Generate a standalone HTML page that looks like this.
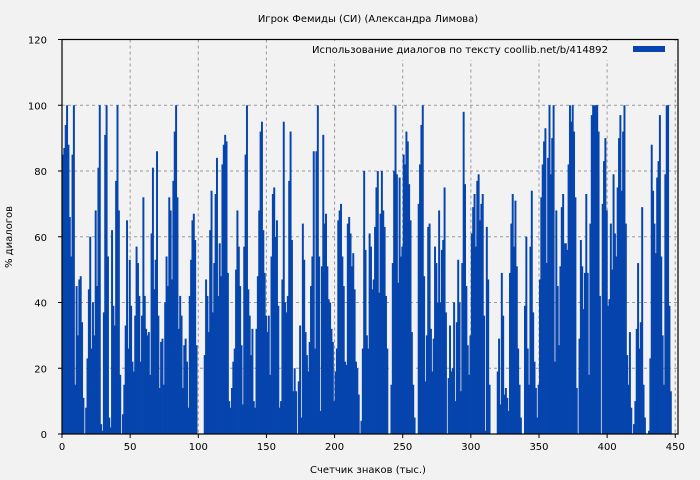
<!DOCTYPE html>
<html><head><meta charset="utf-8"><style>
html,body{margin:0;padding:0;background:#f2f2f2;}
svg{display:block;font-family:"DejaVu Sans","Liberation Sans",sans-serif;}
</style></head><body>
<svg id="chart" width="700" height="480" viewBox="0 0 700 480">
<rect x="0" y="0" width="700" height="480" fill="#f2f2f2"/>
<text x="368" y="22" text-anchor="middle" font-size="10" fill="#000">Игрок Фемиды (СИ) (Александра Лимова)</text>
<g id="grid"></g>
<g id="bars"></g>
<g id="axes"></g>
<text x="368" y="473" text-anchor="middle" font-size="10" fill="#000">Счетчик знаков (тыс.)</text>
<text transform="translate(12,237) rotate(-90)" text-anchor="middle" font-size="10" fill="#000">% диалогов</text>
<g>
<rect x="300" y="41" width="376" height="19" fill="#f2f2f2"/>
<text x="312" y="53" font-size="10" fill="#000" textLength="296" lengthAdjust="spacingAndGlyphs">Использование диалогов по тексту  coollib.net/b/414892</text>
<rect x="633" y="46" width="32" height="6" fill="#0645ad"/>
</g>
</svg>
<script>
const xTicks = [0,50,100,150,200,250,300,350,400,450];
const yTicks = [0,20,40,60,80,100,120];
const values = [
85,87,94,100,88,66,54,85,100,15,45,30,47,48,34,11,0,8,23,44,
60,26,40,30,68,45,81,100,3,1,37,91,100,54,5,2,62,39,33,77,
100,68,18,0,6,15,33,65,26,53,39,22,19,36,57,52,42,22,36,72,
42,32,30,31,18,61,81,44,53,86,36,14,28,29,15,40,54,45,72,68,
47,77,92,100,72,32,42,36,14,27,29,22,8,42,53,65,67,59,27,0,
0,0,0,0,24,47,42,31,62,74,37,52,73,84,42,58,
48,82,88,91,89,49,10,8,14,22,26,50,68,57,45,27,9,57,85,100,
44,36,24,32,10,8,32,48,68,92,95,62,49,36,31,36,18,54,73,75,
60,65,39,8,10,47,95,40,37,42,77,92,59,13,20,13,0,16,33,5,
64,53,31,24,19,28,45,54,86,26,86,100,54,7,51,91,64,67,51,41,
40,32,28,10,19,26,65,68,70,54,45,22,21,64,66,61,51,55,44,22,
20,12,0,4,26,80,56,30,26,61,
57,44,47,63,75,80,43,67,80,68,63,42,26,0,0,15,52,80,100,79,
46,78,54,57,85,82,92,89,76,65,31,15,5,0,0,70,82,94,100,48,
16,30,63,64,32,19,29,57,52,40,68,40,56,59,75,37,0,17,33,19,
20,40,10,34,53,40,13,52,98,76,45,27,18,30,61,69,73,57,77,79,
65,70,73,36,1,63,47,15,0,0,0,0,0,19,29,9,49,36,12,14,
11,7,49,64,73,57,71,51,26,15,5,0,0,39,
60,26,15,57,74,37,22,14,5,15,47,72,82,89,93,52,84,100,79,90,
100,22,68,45,27,51,69,73,58,58,56,82,100,95,100,92,72,14,0,29,
59,51,38,49,73,49,18,64,97,100,100,100,100,92,42,0,70,83,90,
68,39,41,64,50,79,61,54,75,90,97,74,92,100,64,24,15,31,8,0,
3,10,32,52,26,34,69,15,5,0,0,1,23,88,74,64,55,78,83,
97,54,30,15,79,100,100,39,13
];
const L=62,R=678,T=39.5,B=434,X0=0,X1=452,Y1=120;
const NS="http://www.w3.org/2000/svg";
function sx(v){return L+(v-X0)/(X1-X0)*(R-L);}
function sy(v){return B-v/Y1*(B-T);}
function mk(tag,attrs,parent){const e=document.createElementNS(NS,tag);for(const k in attrs)e.setAttribute(k,attrs[k]);parent.appendChild(e);return e;}
const grid=document.getElementById('grid'),bars=document.getElementById('bars'),axes=document.getElementById('axes');
yTicks.forEach(t=>{if(t>0&&t<Y1){const l=mk('line',{x1:L,x2:R,y1:sy(t),y2:sy(t),stroke:'#999','stroke-dasharray':'3,3','stroke-width':1},grid);

}});
xTicks.forEach(t=>{if(t>0){const l=mk('line',{x1:sx(t),x2:sx(t),y1:T,y2:B,stroke:'#999','stroke-dasharray':'3,3','stroke-width':1},grid);

}});
const w=(R-L)/(X1-X0);
values.forEach((v,i)=>{if(v<=0)return;const r=mk('rect',{x:sx(i),y:sy(v),width:Math.min(w+0.6,R-sx(i)),height:B-sy(v),fill:'#0645ad'},bars);

});
const frame=mk('rect',{x:L,y:T,width:R-L,height:B-T,fill:'none',stroke:'#000','stroke-width':1.2},axes);


yTicks.forEach(t=>{const l=mk('line',{x1:L-4,x2:L,y1:sy(t),y2:sy(t),stroke:'#000'},axes);


const tx=mk('text',{x:L-15,y:sy(t)+4,'text-anchor':'end','font-size':10},axes);tx.textContent=t;

});
xTicks.forEach(t=>{const l=mk('line',{x1:sx(t),x2:sx(t),y1:B,y2:B+4,stroke:'#000'},axes);


const tx=mk('text',{x:sx(t),y:B+16,'text-anchor':'middle','font-size':10},axes);tx.textContent=t;

});
</script>
</body></html>
